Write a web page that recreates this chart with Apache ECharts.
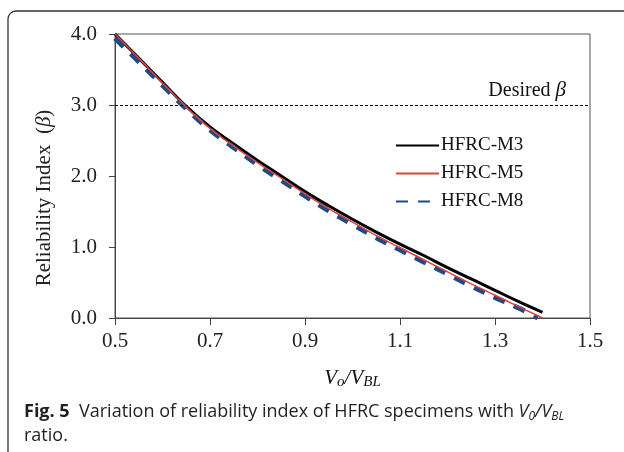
<!DOCTYPE html>
<html>
<head>
<meta charset="utf-8">
<script src="https://cdn.jsdelivr.net/npm/echarts@6/dist/echarts.min.js"></script>
<style>
  html, body { margin: 0; padding: 0; background: #fff; }
  #chart { width: 624px; height: 452px; }
</style>
</head>
<body>
<div id="chart"></div>
<script>
// V0/VBL ratio
const ratio = [0.5, 0.55, 0.6, 0.65, 0.7, 0.75, 0.8, 0.85, 0.9, 0.95, 1.0,
  1.05, 1.1, 1.15, 1.2, 1.25, 1.3, 1.35, 1.4]
const ratioM8 = [0.5, 0.55, 0.6, 0.65, 0.7, 0.75, 0.8, 0.85, 0.9, 0.95, 1.0,
  1.05, 1.1, 1.15, 1.2, 1.25, 1.3, 1.35, 1.39]

const betaM3 = [4.00, 3.66, 3.32, 2.98, 2.69, 2.45, 2.22, 2.00, 1.78, 1.58, 1.39,
  1.21, 1.04, 0.88, 0.71, 0.55, 0.39, 0.23, 0.08]
const betaM5 = [4.00, 3.66, 3.31, 2.97, 2.67, 2.42, 2.19, 1.97, 1.75, 1.54, 1.35,
  1.16, 0.99, 0.82, 0.65, 0.48, 0.32, 0.16, 0.00]
const betaM8 = [3.94, 3.61, 3.28, 2.95, 2.65, 2.40, 2.16, 1.94, 1.72, 1.51, 1.32,
  1.13, 0.96, 0.79, 0.62, 0.45, 0.29, 0.14, 0.00]

const desiredBeta = 3.0
const seriesNames = ['HFRC-M3', 'HFRC-M5', 'HFRC-M8']

const serif = '"Liberation Serif", "DejaVu Serif", serif'
const sans = '"Open Sans", "Noto Sans", sans-serif'
const zip = (xs, ys) => xs.map((x, i) => [x, ys[i]])

const chart = echarts.init(document.getElementById('chart'))

chart.setOption({
  animation: false,
  grid: {
    left: 115,
    right: 34,
    top: 34,
    bottom: 134,
    show: true,
    borderColor: '#555',
    borderWidth: 1,
  },
  legend: {
    data: seriesNames,
    orient: 'vertical',
    left: 390,
    top: 131,
    itemWidth: 43,
    itemHeight: 10,
    itemGap: 9,
    itemStyle: { opacity: 0 },
    textStyle: { fontFamily: serif, fontSize: 19, color: '#111', padding: [0, 0, 0, -3] },
  },
  xAxis: {
    type: 'value',
    min: 0.5,
    max: 1.5,
    interval: 0.2,
    name: '{i|V}{s|o}{i|/V}{s|BL}',
    nameLocation: 'middle',
    nameGap: 48,
    nameTextStyle: {
      rich: {
        i: { fontFamily: serif, fontStyle: 'italic', fontSize: 21, color: '#111' },
        s: { fontFamily: serif, fontStyle: 'italic', fontSize: 15, color: '#111', padding: [9, 0, 0, 0] },
      },
    },
    axisLine: { lineStyle: { color: '#444', width: 1 } },
    axisTick: { length: 7, lineStyle: { color: '#444' } },
    splitLine: { show: false },
    axisLabel: {
      fontFamily: serif, fontSize: 21, color: '#222', margin: 13,
      formatter: v => v.toFixed(1),
    },
  },
  yAxis: {
    type: 'value',
    min: 0,
    max: 4,
    interval: 1,
    name: 'Reliability Index  ({b|β})',
    nameLocation: 'middle',
    nameGap: 60,
    nameTextStyle: {
      fontFamily: serif, fontSize: 21, color: '#222',
      padding: [0, 44, 0, 0],
      rich: { b: { fontFamily: serif, fontStyle: 'italic', fontSize: 21, color: '#222' } },
    },
    axisLine: { show: true, lineStyle: { color: '#444', width: 1 } },
    axisTick: { show: true, length: 6, lineStyle: { color: '#444' } },
    splitLine: { show: false },
    axisLabel: {
      fontFamily: serif, fontSize: 21, color: '#222', margin: 18,
      formatter: v => v.toFixed(1),
    },
  },
  series: [
    {
      name: seriesNames[0],
      type: 'line',
      data: zip(ratio, betaM3),
      smooth: 0.4,
      showSymbol: false,
      symbol: 'none',
      lineStyle: { color: '#000', width: 3 },
      itemStyle: { color: '#000' },
      z: 3,
      markLine: {
        silent: true,
        symbol: 'none',
        data: [{ yAxis: desiredBeta }],
        lineStyle: { color: '#000', width: 1, type: [3, 2] },
        label: {
          position: 'insideEndTop',
          distance: [24, 4],
          formatter: 'Desired {b|β}',
          fontFamily: serif, fontSize: 20, color: '#111',
          rich: { b: { fontFamily: serif, fontStyle: 'italic', fontSize: 21, color: '#111' } },
        },
      },
    },
    {
      name: seriesNames[1],
      type: 'line',
      data: zip(ratio, betaM5),
      smooth: 0.4,
      showSymbol: false,
      symbol: 'none',
      lineStyle: { color: '#d9453f', width: 1.5 },
      itemStyle: { color: '#d9453f' },
      z: 5,
    },
    {
      name: seriesNames[2],
      type: 'line',
      data: zip(ratioM8, betaM8),
      smooth: 0.4,
      showSymbol: false,
      symbol: 'none',
      lineStyle: { color: '#1f4a85', width: 5, type: [12, 10] },
      itemStyle: { color: '#1f4a85' },
      z: 4,
    },
  ],
  graphic: [
    {
      type: 'rect',
      shape: { x: 8, y: 11, width: 700, height: 520, r: 8 },
      style: { fill: 'none', stroke: '#333', lineWidth: 1.3 },
      silent: true,
    },
    {
      type: 'text',
      left: 24,
      top: 400,
      style: {
        text: '{b|Fig. 5}  Variation of reliability index of HFRC specimens with {i|V}{s|0}{i|/V}{s|BL}\nratio.',
        font: '18px "Open Sans", sans-serif',
        fill: '#231f20',
        lineHeight: 24,
        rich: {
          b: { fontFamily: sans, fontWeight: 'bold', fontSize: 18, fill: '#231f20' },
          i: { fontFamily: sans, fontStyle: 'italic', fontSize: 18, fill: '#231f20' },
          s: { fontFamily: sans, fontStyle: 'italic', fontSize: 12, fill: '#231f20', padding: [9, 0, 0, 0] },
        },
      },
    },
  ],
})
</script>
</body>
</html>
